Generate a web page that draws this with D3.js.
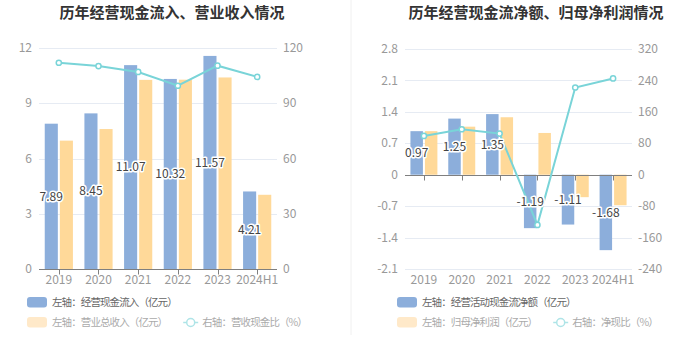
<!DOCTYPE html>
<html><head><meta charset="utf-8">
<script src="https://cdn.jsdelivr.net/npm/d3@7"></script>
<style>
html,body{margin:0;padding:0;background:#fff;}
svg{display:block;font-family:"Noto Sans CJK SC","Noto Sans",sans-serif;}
.lg text{letter-spacing:-0.9px;}
</style></head>
<body>
<svg id="c" width="699" height="359"></svg>
<script>
const categories = ["2019","2020","2021","2022","2023","2024H1"];
// Left chart
const cashInflow = [7.89, 8.45, 11.07, 10.32, 11.57, 4.21];
const revenue = [6.97, 7.60, 10.27, 10.28, 10.40, 4.03];
const cashRatio = [112.0, 110.2, 107.0, 99.5, 110.4, 104.3];
const leftTicksL = [0, 3, 6, 9, 12];
const leftTicksR = [0, 30, 60, 90, 120];
// Right chart
const netCashFlow = [0.97, 1.25, 1.35, -1.19, -1.11, -1.68];
const netProfit = [0.97, 1.07, 1.28, 0.93, -0.50, -0.68];
const netRatio = [98.7, 115.7, 104.7, -127.7, 222.0, 245.0];
const rightTicksL = [-2.1, -1.4, -0.7, 0, 0.7, 1.4, 2.1, 2.8];
const rightTicksR = [-240, -160, -80, 0, 80, 160, 240, 320];

const titles = ["历年经营现金流入、营业收入情况", "历年经营现金流净额、归母净利润情况"];
const legend1 = ["左轴：经营现金流入（亿元）", "左轴：营业总收入（亿元）", "右轴：营收现金比（%）"];
const legend2 = ["左轴：经营活动现金流净额（亿元）", "左轴：归母净利润（亿元）", "右轴：净现比（%）"];

const BLUE = "#8caedb", ORANGE = "#ffd999", TEAL = "#79d4d8";
const svg = d3.select("#c");

// divider
svg.append("line").attr("x1",351).attr("x2",351).attr("y1",0).attr("y2",335)
  .attr("stroke","#f0f0f0").attr("stroke-width",1);

function drawChart(o) {
  const g = svg.append("g");
  const x = d3.scaleBand().domain(categories).range([o.x0, o.x1]);
  const yL = d3.scaleLinear().domain([o.ticksL[0], o.ticksL[o.ticksL.length-1]]).range([o.y1, o.y0]);
  const yR = d3.scaleLinear().domain([o.ticksR[0], o.ticksR[o.ticksR.length-1]]).range([o.y1, o.y0]);
  const bw = x.bandwidth();
  const barW = bw * 0.33;
  const cx = c => x(c) + bw / 2;

  // title
  g.append("text").attr("x", o.titleX).attr("y", 18).attr("text-anchor","middle")
    .attr("font-size", 15).attr("font-weight","bold").attr("fill","#333").text(o.title);

  // grid
  g.selectAll(".grid").data(o.ticksL).join("line")
    .attr("x1", o.x0).attr("x2", o.x1)
    .attr("y1", d => Math.round(yL(d)) + 0.5).attr("y2", d => Math.round(yL(d)) + 0.5)
    .attr("stroke", "#e6ebf3").attr("stroke-width", 1);

  // axis labels
  g.selectAll(".tl").data(o.ticksL).join("text")
    .attr("x", o.x0 - 7).attr("y", d => yL(d)).attr("dy","0.35em")
    .attr("text-anchor","end").attr("font-size",12).attr("fill","#999").text(d => d);
  g.selectAll(".tr").data(o.ticksR).join("text")
    .attr("x", o.x1 + 6).attr("y", d => yR(d)).attr("dy","0.35em")
    .attr("text-anchor","start").attr("font-size",12).attr("fill","#999").text(d => d);

  // bars
  g.selectAll(".b1").data(o.s1).join("rect")
    .attr("x", (d,i) => cx(categories[i]) - 1 - barW)
    .attr("width", barW)
    .attr("y", d => Math.min(yL(d), yL(0)))
    .attr("height", d => Math.abs(yL(d) - yL(0)))
    .attr("fill", BLUE);
  g.selectAll(".b2").data(o.s2).join("rect")
    .attr("x", (d,i) => cx(categories[i]) + 1)
    .attr("width", barW)
    .attr("y", d => Math.min(yL(d), yL(0)))
    .attr("height", d => Math.abs(yL(d) - yL(0)))
    .attr("fill", ORANGE);

  // zero axis line and ticks
  const y0 = Math.round(yL(0)) + 0.5;
  g.append("line").attr("x1", o.x0).attr("x2", o.x1).attr("y1", y0).attr("y2", y0)
    .attr("stroke","#7f7f7f").attr("stroke-width",1);
  g.selectAll(".xt").data(categories).join("line")
    .attr("x1", d => Math.round(cx(d)) + 0.5).attr("x2", d => Math.round(cx(d)) + 0.5)
    .attr("y1", y0).attr("y2", y0 + 5).attr("stroke","#7f7f7f");

  // x labels
  g.selectAll(".xl").data(categories).join("text")
    .attr("x", d => cx(d)).attr("y", o.y1 + 11).attr("dy","0.35em")
    .attr("text-anchor","middle").attr("font-size",12).attr("fill","#999").text(d => d);

  // line
  const line = d3.line().x((d,i) => cx(categories[i])).y(d => yR(d));
  g.append("path").datum(o.s3).attr("d", line).attr("fill","none")
    .attr("stroke", TEAL).attr("stroke-width", 2);
  g.selectAll(".pt").data(o.s3).join("circle")
    .attr("cx", (d,i) => cx(categories[i])).attr("cy", d => yR(d)).attr("r", 2.6)
    .attr("fill","#fff").attr("stroke", TEAL).attr("stroke-width", 1.5);

  // bar labels
  g.selectAll(".lb").data(o.s1).join("text")
    .attr("x", (d,i) => cx(categories[i]) - 1 - barW / 2)
    .attr("y", d => (yL(d) + yL(0)) / 2).attr("dy","0.35em")
    .attr("text-anchor","middle").attr("font-size",12).attr("fill","#444")
    .attr("stroke","#fff").attr("stroke-width",3).attr("paint-order","stroke")
    .attr("stroke-linejoin","round")
    .text(d => d.toFixed(2));

  // legend
  const lx = o.legendX, FS = 10.5;
  const L = g.append("g").attr("class","lg");
  L.append("rect").attr("x", lx).attr("y", 297).attr("width", 20).attr("height", 10.5).attr("rx", 3).attr("fill", BLUE);
  L.append("text").attr("x", lx + 25).attr("y", 302.5).attr("dy","0.35em").attr("font-size",FS).attr("fill","#666").text(o.legend[0]);
  L.append("rect").attr("x", lx).attr("y", 317).attr("width", 20).attr("height", 10.5).attr("rx", 3).attr("fill", "#ffe9c9");
  const t2 = L.append("text").attr("x", lx + 25).attr("y", 322.5).attr("dy","0.35em").attr("font-size",FS).attr("fill","#aaa").text(o.legend[1]);
  const w2 = t2.node().getComputedTextLength();
  const sx = lx + 25 + w2 + 16;
  L.append("line").attr("x1", sx).attr("x2", sx + 15).attr("y1", 322.5).attr("y2", 322.5).attr("stroke", "#aee4e7").attr("stroke-width", 1.5);
  L.append("circle").attr("cx", sx + 7.5).attr("cy", 322.5).attr("r", 4).attr("fill","#fff").attr("stroke","#aee4e7").attr("stroke-width",1.5);
  L.append("text").attr("x", sx + 19).attr("y", 322.5).attr("dy","0.35em").attr("font-size",FS).attr("fill","#aaa").text(o.legend[2]);
}

drawChart({x0:39, x1:277, y0:48, y1:269, titleX:172, title:titles[0],
  ticksL:leftTicksL, ticksR:leftTicksR,
  s1:cashInflow, s2:revenue, s3:cashRatio, legend:legend1, legendX:27});
drawChart({x0:405, x1:632, y0:49, y1:269, titleX:536, title:titles[1],
  ticksL:rightTicksL, ticksR:rightTicksR,
  s1:netCashFlow, s2:netProfit, s3:netRatio, legend:legend2, legendX:397});
</script>
</body></html>
